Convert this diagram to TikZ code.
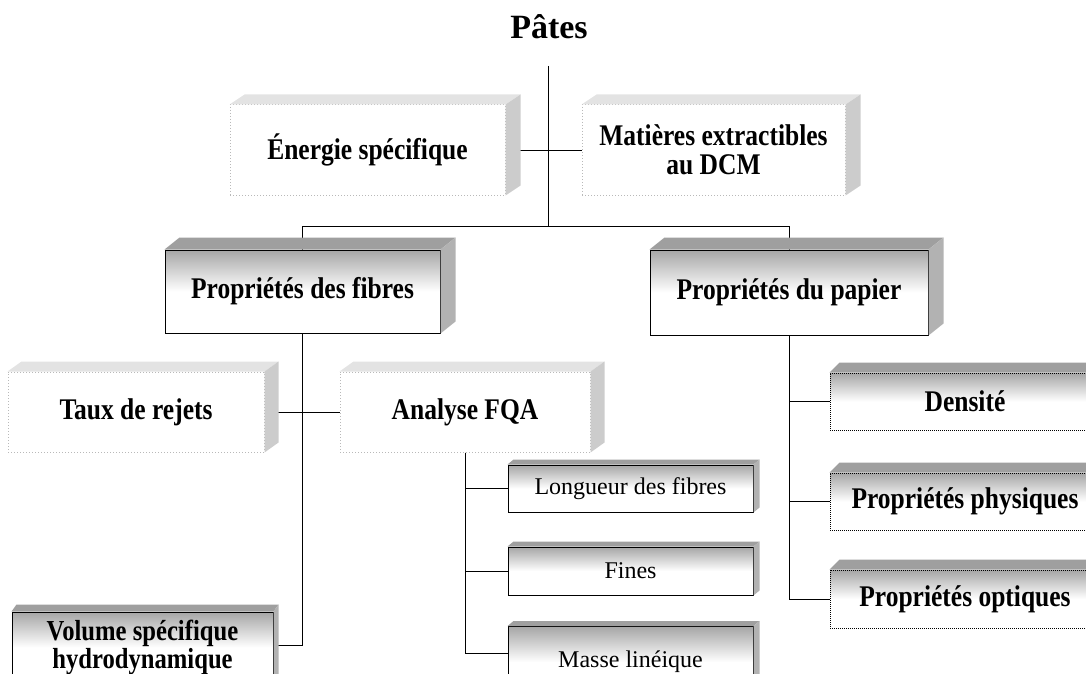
\documentclass[tikz,border=0pt]{standalone}
\usepackage{fontspec}
\setmainfont{Liberation Serif}
\newfontfamily\etroit{Liberation Serif}[FakeStretch=0.85]
\usetikzlibrary{calc,backgrounds}
\pgfdeclareverticalshading{haut}{100bp}{color(0bp)=(white); color(25bp)=(white); color(50bp)=(white);
  color(75bp)=(gray!70); color(100bp)=(gray!70)}
\newcommand{\relief}[5]{%
  \fill[#4] (#1.north west) -- ++(#2,-#3) -- ($(#1.north east)+(#2,-#3)$) -- (#1.north east) -- cycle;
  \fill[#5] (#1.north east) -- ++(#2,-#3) -- ($(#1.south east)+(#2,-#3)$) -- (#1.south east) -- cycle;}
\tikzset{
  titre/.style={font=\fontsize{34}{36}\selectfont\bfseries},
  gras/.style={font=\etroit\fontsize{30}{29}\selectfont\bfseries,align=center,inner sep=0pt},
  grande/.style={gras,draw=black,line width=1pt,shade,shading=haut},
  claire/.style={gras,draw=gray!55,dotted,line width=1pt,fill=white},
  pointille/.style={gras,draw=black,densely dotted,line width=1pt,shade,shading=haut},
  petite/.style={draw=black,line width=1pt,shade,shading=haut,font=\fontsize{24}{26}\selectfont,inner sep=0pt},
  lien/.style={line width=1.4pt},
}
\begin{document}
\begin{tikzpicture}[x=1pt,y=-1pt]
  \useasboundingbox (0,0) rectangle (1086,674);
  \clip (0,0) rectangle (1086,674);
  % titre
  \node[titre,anchor=base] (titre) at (549,39) {Pâtes};
  \coordinate (tronc) at (548,66);
  \coordinate (bus) at (548,226);
  % premier niveau
  \node[claire,minimum width=275,minimum height=90] (energie) at (367.5,150) {Énergie spécifique};
  \node[claire,minimum width=263,minimum height=90] (matieres) at (713.5,150) {Matières extractibles\\au DCM};
  \relief{energie}{15}{10}{gray!22}{gray!40}
  \relief{matieres}{15}{10}{gray!22}{gray!40}
  \node[grande,minimum width=275,minimum height=83] (fibres) at (302.5,291.5) {Propriétés des fibres};
  \node[grande,minimum width=278,minimum height=85] (papier) at (789,292.5) {Propriétés du papier};
  \relief{fibres}{15}{12}{gray!75}{gray!60}
  \relief{papier}{15}{12}{gray!75}{gray!60}
  % fibres
  \node[claire,minimum width=256,minimum height=80] (taux) at (136,412) {Taux de rejets};
  \node[claire,minimum width=250,minimum height=80] (analyse) at (465,412) {Analyse FQA};
  \relief{taux}{14}{10}{gray!22}{gray!40}
  \relief{analyse}{14}{10}{gray!22}{gray!40}
  \node[petite,minimum width=245,minimum height=47] (longueur) at (630.5,488.5) {Longueur des fibres};
  \node[petite,minimum width=245,minimum height=48] (fines) at (630.5,571) {Fines};
  \node[petite,minimum width=245,minimum height=71] (masse) at (630.5,662) {Masse linéique};
  \foreach \n in {longueur,fines,masse} \relief{\n}{6}{5}{gray!75}{gray!60};
  \node[grande,font=\etroit\fontsize{29}{25}\selectfont\bfseries,minimum width=261,minimum height=71] (volume) at (142.5,647.5) {Volume spécifique\\hydrodynamique};
  \relief{volume}{5}{7}{gray!75}{gray!60}
  % papier
  \node[pointille,minimum width=270,minimum height=57] (densite) at (965,401.5) {Densité};
  \node[pointille,minimum width=270,minimum height=57] (physiques) at (965,501.5) {Propriétés physiques};
  \node[pointille,minimum width=270,minimum height=58] (optiques) at (965,599) {Propriétés optiques};
  \foreach \n in {densite,physiques,optiques} \relief{\n}{10}{10}{gray!75}{gray!60};
  % liens
  \begin{scope}[on background layer,lien]
    \draw (tronc) -- (bus);
    \draw (energie.east) -- (matieres.west);
    \draw (bus) -| (fibres.north);
    \draw (bus) -| (papier.north);
    \draw (fibres.south) |- ([yshift=2pt]volume.east);
    \draw (taux.east) -- (analyse.west);
    \foreach \n in {longueur,fines} \draw (analyse.south) |- (\n.west);
    \draw (analyse.south) |- ([yshift=9pt]masse.west);
    \foreach \n in {densite,physiques,optiques} \draw (papier.south) |- (\n.west);
  \end{scope}
\end{tikzpicture}
\end{document}
